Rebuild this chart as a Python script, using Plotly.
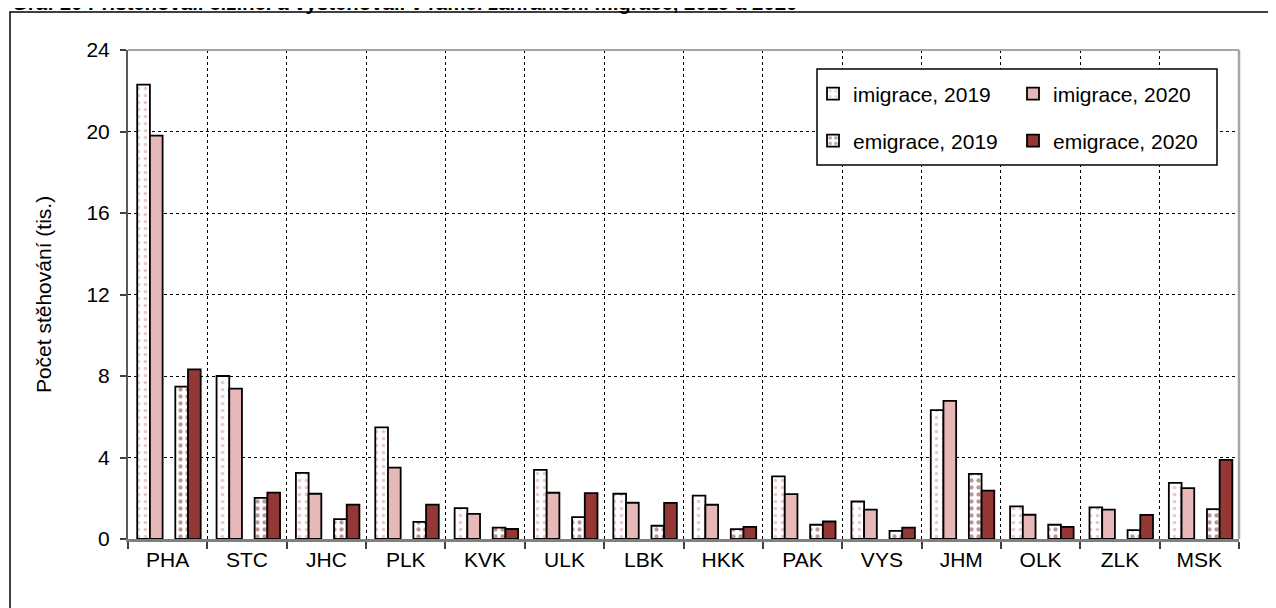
import plotly.graph_objects as go

# ---- data (thousands) ----
regions = ["PHA", "STC", "JHC", "PLK", "KVK", "ULK", "LBK", "HKK", "PAK", "VYS", "JHM", "OLK", "ZLK", "MSK"]
imigrace_2019 = [22.3, 8.0, 3.25, 5.48, 1.52, 3.39, 2.22, 2.13, 3.07, 1.84, 6.33, 1.60, 1.55, 2.75]
imigrace_2020 = [19.8, 7.38, 2.22, 3.50, 1.23, 2.27, 1.78, 1.68, 2.20, 1.44, 6.78, 1.19, 1.44, 2.50]
emigrace_2019 = [7.48, 2.02, 0.98, 0.84, 0.56, 1.07, 0.65, 0.48, 0.70, 0.40, 3.20, 0.70, 0.44, 1.47]
emigrace_2020 = [8.33, 2.28, 1.69, 1.69, 0.49, 2.25, 1.77, 0.60, 0.86, 0.56, 2.37, 0.60, 1.18, 3.88]
y_ticks = [0, 4, 8, 12, 16, 20, 24]

title_text = "Graf 10 Přistěhovalí cizinci a vystěhovalí v rámci zahraniční migrace, 2019 a 2020"
y_title = "Počet stěhování (tis.)"

FONT = "Liberation Sans, Arial, sans-serif"
PINK = "#e6b9b8"
DARK = "#953735"

# page offset of the plot div (body margin)
OFF = 8
W, H = 1276, 608
L, T = 128 - OFF, 50 - OFF
R = W - (1239 - OFF)
B = H - (539 - OFF)
PW, PH = W - L - R, H - T - B


def px(xp):
    return (xp - OFF - L) / PW


def py(yp):
    return (H - B - (yp - OFF)) / PH


series = [
    ("imigrace, 2019", imigrace_2019, dict(color="white", pattern=dict(shape=".", fgcolor="#d99694", bgcolor="white", size=7, solidity=0.22)), -0.384, "legend"),
    ("imigrace, 2020", imigrace_2020, dict(color=PINK), -0.224, "legend2"),
    ("emigrace, 2019", emigrace_2019, dict(color="white", pattern=dict(shape=".", fgcolor="#7a2c2a", bgcolor="white", size=7, solidity=0.3)), 0.096, "legend3"),
    ("emigrace, 2020", emigrace_2020, dict(color=DARK), 0.256, "legend4"),
]

fig = go.Figure()
for name, vals, mk, off, lg in series:
    mk = dict(mk)
    mk["line"] = dict(color="black", width=1.8)
    fig.add_trace(go.Bar(
        name=name, x=regions, y=vals, marker=mk,
        offset=off, width=0.16, legend=lg,
    ))

leg_common = dict(
    orientation="h", bgcolor="rgba(0,0,0,0)", borderwidth=0,
    font=dict(family=FONT, size=21, color="black"),
    xanchor="left", yanchor="middle",
)
legend_pos = {
    "legend": (813, 94),
    "legend2": (1013, 94),
    "legend3": (813, 141),
    "legend4": (1013, 141),
}
legends = {k: dict(leg_common, x=px(v[0]), y=py(v[1])) for k, v in legend_pos.items()}

fig.update_layout(
    width=W, height=H,
    margin=dict(l=L, r=R, t=T, b=B, autoexpand=False),
    paper_bgcolor="white", plot_bgcolor="white",
    barmode="overlay",
    font=dict(family=FONT, size=21, color="black"),
    showlegend=True,
    **legends,
    xaxis=dict(
        type="category", tickson="boundaries",
        showgrid=True, gridcolor="black", griddash="dot", gridwidth=1,
        ticks="outside", ticklen=7, tickcolor="#404040", tickwidth=1.5,
        showline=True, linecolor="#808080", linewidth=2.5,
        tickfont=dict(family=FONT, size=21, color="black"),
        range=[-0.5, len(regions) - 0.5],
        zeroline=False,
    ),
    yaxis=dict(
        range=[0, 24], tickvals=y_ticks, ticktext=[str(v) for v in y_ticks],
        showgrid=True, gridcolor="black", griddash="dot", gridwidth=1,
        ticks="outside", ticklen=6, tickcolor="#404040", tickwidth=1.5,
        showline=True, linecolor="#595959", linewidth=2,
        tickfont=dict(family=FONT, size=21, color="black"),
        ticklabelstandoff=6,
        zeroline=False,
        title=dict(text=y_title, font=dict(family=FONT, size=21, color="black"), standoff=29),
    ),
)

shapes = [
    # outer frame
    dict(type="rect", xref="paper", yref="paper", x0=px(10), x1=px(1274), y0=py(630), y1=py(12),
         line=dict(color="black", width=1.5), fillcolor="rgba(0,0,0,0)", layer="below"),
    # plot area top / right border
    dict(type="line", xref="paper", yref="paper", x0=0, x1=1, y0=1, y1=1,
         line=dict(color="#a6a6a6", width=2), layer="above"),
    dict(type="line", xref="paper", yref="paper", x0=1, x1=1, y0=0, y1=1,
         line=dict(color="#a6a6a6", width=2.5), layer="above"),
    # legend box
    dict(type="rect", xref="paper", yref="paper", x0=px(817), x1=px(1217), y0=py(165), y1=py(69),
         line=dict(color="black", width=1.5), fillcolor="white", layer="above"),
]
fig.update_layout(shapes=shapes)

fig.add_annotation(
    text="<b>" + title_text + "</b>", xref="paper", yref="paper",
    x=px(10), y=py(2.5), xanchor="left", yanchor="middle", showarrow=False,
    font=dict(family=FONT, size=20.4, color="black"),
)

fig.write_html("out.html")
